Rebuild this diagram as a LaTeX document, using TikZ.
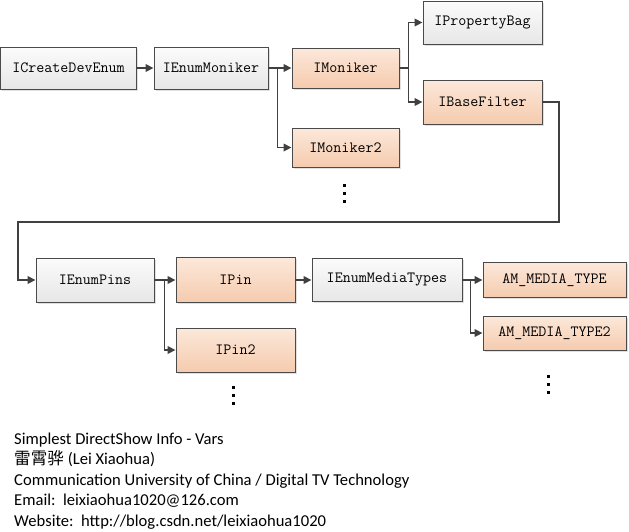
\documentclass[tikz,border=0pt]{standalone}
\usepackage{fontspec}
\newfontfamily\cjk{Noto Sans CJK SC}
\newfontfamily\carlito{Carlito}
\usetikzlibrary{arrows.meta,shadows}
\definecolor{edge}{HTML}{404040}
\definecolor{bord}{HTML}{4A4A4A}
\definecolor{gtop}{HTML}{FBFBFB}
\definecolor{gbot}{HTML}{E7E7E7}
\definecolor{otop}{HTML}{FCE8DA}
\definecolor{obot}{HTML}{F5CBAE}
\tikzset{
  basebox/.style={draw=bord, line width=0.9pt, inner sep=0pt,
    font=\ttfamily\fontsize{15.6}{16}\selectfont,
    drop shadow={shadow xshift=1.8pt, shadow yshift=-1.8pt, fill=black, opacity=0.12}},
  greybox/.style={basebox, top color=gtop, bottom color=gbot},
  orbox/.style={basebox, top color=otop, bottom color=obot},
  arr/.style={draw=edge, line width=1.8pt, -{Triangle[length=8pt,width=7.5pt]}},
  dotsq/.style={fill=black},
  captext/.style={anchor=base west, inner sep=0pt, text=black,
    font=\carlito\fontsize{16.6}{20}\selectfont}
}
\newcommand\vdotsat[2]{%
  \fill[dotsq] (#1-1.5,#2-1.5) rectangle ++(3,3);
  \fill[dotsq] (#1-1.5,#2+6.5) rectangle ++(3,3);
  \fill[dotsq] (#1-1.5,#2+14.5) rectangle ++(3,3);}
\begin{document}
\begin{tikzpicture}[x=1pt,y=-1pt]
\useasboundingbox[fill=white] (0,0) rectangle (629,531);
% row 1
\node[greybox, minimum width=136pt, minimum height=42pt] (cde) at (68.5,68) {ICreateDevEnum};
\node[greybox, minimum width=114pt, minimum height=42pt] (enm) at (211,68) {IEnumMoniker};
\node[orbox, minimum width=107pt, minimum height=40pt] (mon) at (345.5,68) {IMoniker};
\node[orbox, minimum width=107pt, minimum height=39pt] (mon2) at (345.5,147.5) {IMoniker2};
\node[greybox, minimum width=119pt, minimum height=43pt] (pb) at (482.5,22.5) {IPropertyBag};
\node[orbox, minimum width=119pt, minimum height=44pt] (bf) at (482.5,102) {IBaseFilter};
\vdotsat{344}{185}
% row 2
\node[greybox, minimum width=118pt, minimum height=44pt] (ep) at (95,280) {IEnumPins};
\node[orbox, minimum width=119pt, minimum height=45pt] (pin) at (235.5,280) {IPin};
\node[orbox, minimum width=119pt, minimum height=44pt] (pin2) at (235.5,350) {IPin2};
\node[greybox, minimum width=150pt, minimum height=43pt] (emt) at (387,280) {IEnumMediaTypes};
\node[orbox, minimum width=143pt, minimum height=35pt] (amt) at (554.5,280) {AM\_MEDIA\_TYPE};
\node[orbox, minimum width=143pt, minimum height=34pt] (amt2) at (554.5,333) {AM\_MEDIA\_TYPE2};
\vdotsat{233}{387}
\vdotsat{548}{376}
% connectors
\draw[arr] (cde.east) -- (enm.west);
\draw[arr] (enm.east) -- (mon.west);
\draw[arr] (enm.east) -- ++(9,0) |- (mon2.west);
\draw[arr] (mon.east) -- ++(9,0) |- (pb.west);
\draw[arr] (mon.east) -- ++(9,0) |- (bf.west);
\coordinate (t1) at (559,222);
\coordinate (t2) at (18,280);
\draw[arr] (bf.east) -| (t1) -| (t2) -- (ep.west);
\draw[arr] (ep.east) -- (pin.west);
\draw[arr] (ep.east) -- ++(10,0) |- (pin2.west);
\draw[arr] (pin.east) -- (emt.west);
\draw[arr] (emt.east) -- (amt.west);
\draw[arr] (emt.east) -- ++(8,0) |- (amt2.west);
% caption
\node[captext] (c1) at (14,444) {Simplest DirectShow Info - Vars};
\node[captext] (c2) at (14,464.5) {{\cjk 雷霄骅} (Lei Xiaohua)};
\node[captext] (c3) at (14,485) {Communication University of China / Digital TV Technology};
\node[captext] (c4) at (14,505.5) {Email:\ \ leixiaohua1020@126.com};
\node[captext] (c5) at (14,526) {Website:\ \ http://blog.csdn.net/leixiaohua1020};
\end{tikzpicture}
\end{document}
